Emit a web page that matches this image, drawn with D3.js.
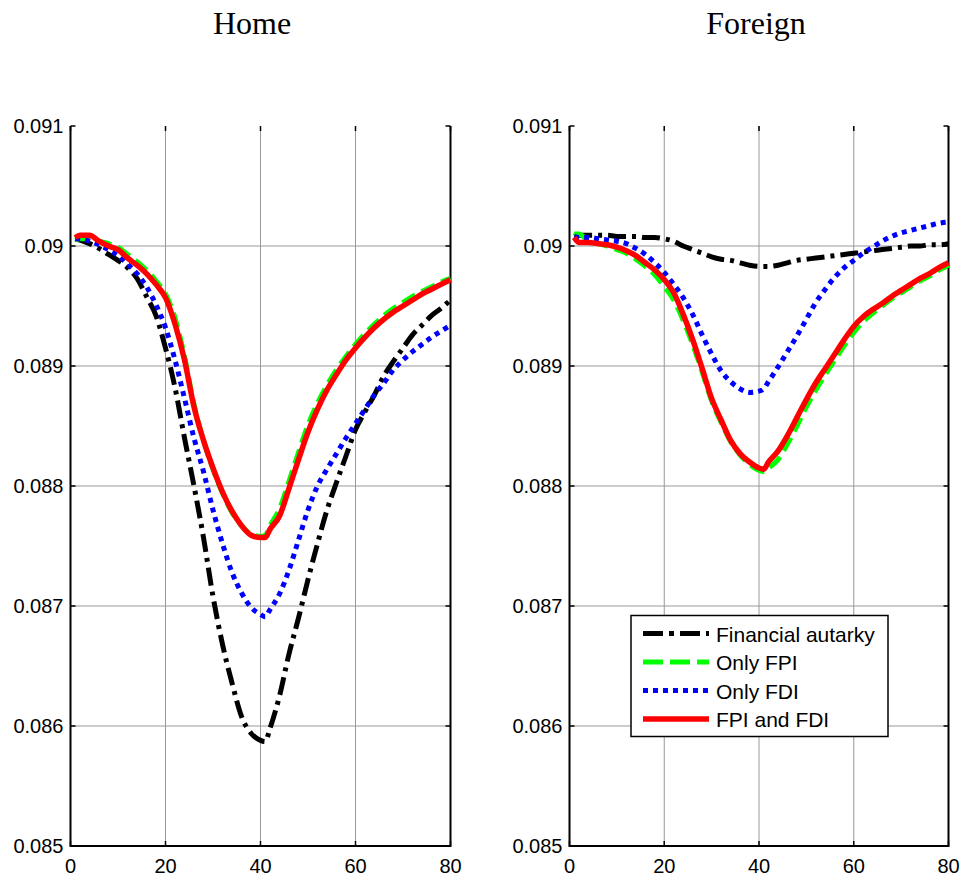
<!DOCTYPE html>
<html>
<head>
<meta charset="utf-8">
<title>Home / Foreign</title>
<style>
    body { margin: 0; background: white; }
    .tick-label { font-family: "Liberation Sans", Arial, sans-serif; font-size: 20px; fill: black; }
    .title { font-family: "Liberation Serif", "Times New Roman", serif; font-size: 32px; fill: black; }
    .legend-text { font-family: "Liberation Sans", Arial, sans-serif; font-size: 21px; fill: black; }
</style>
</head>
<body>
<div id="chart"></div>
<script src="https://cdn.jsdelivr.net/npm/d3@7"></script>
<script>
    // periods
    let periods = [1,2,4,6,8,10,12,14,16,18,20,22,24,26,28,30,32,34,36,38,40,41,42,44,46,48,50,52,54,56,58,60,62,64,66,68,70,72,74,76,78,80]

    // Home
    let home_autarky = [0.09006,0.09005,0.09002,0.08998,0.08993,0.08988,0.08982,0.08973,0.08958,0.08942,0.08915,0.08882,0.08840,0.08800,0.08757,0.08708,0.08668,0.08636,0.08608,0.08594,0.08588,0.08587,0.08598,0.08625,0.08660,0.08690,0.08722,0.08752,0.08780,0.08803,0.08825,0.08847,0.08862,0.08876,0.08892,0.08904,0.08915,0.08926,0.08934,0.08942,0.08948,0.08955]
    let home_fpi = [0.09005,0.09006,0.09006,0.09004,0.09002,0.08999,0.08993,0.08987,0.08980,0.08971,0.08960,0.08940,0.08908,0.08868,0.08838,0.08814,0.08794,0.08778,0.08767,0.08760,0.08758,0.08759,0.08767,0.08781,0.08804,0.08828,0.08851,0.08869,0.08884,0.08897,0.08908,0.08918,0.08927,0.08935,0.08942,0.08948,0.08953,0.08958,0.08962,0.08966,0.08970,0.08973]
    let home_fdi = [0.09006,0.09006,0.09004,0.09001,0.08997,0.08992,0.08985,0.08977,0.08966,0.08951,0.08932,0.08905,0.08873,0.08840,0.08812,0.08780,0.08752,0.08728,0.08711,0.08699,0.08693,0.08691,0.08697,0.08710,0.08730,0.08755,0.08780,0.08800,0.08814,0.08827,0.08840,0.08852,0.08864,0.08876,0.08886,0.08897,0.08905,0.08912,0.08918,0.08924,0.08929,0.08934]
    let home_both = [0.09007,0.09009,0.09009,0.09004,0.09000,0.08997,0.08990,0.08984,0.08977,0.08968,0.08957,0.08935,0.08905,0.08866,0.08838,0.08815,0.08795,0.08779,0.08767,0.08759,0.08757,0.08757,0.08764,0.08775,0.08798,0.08822,0.08845,0.08864,0.08880,0.08893,0.08905,0.08915,0.08924,0.08932,0.08939,0.08945,0.08950,0.08955,0.08960,0.08964,0.08968,0.08972]

    // Foreign
    let foreign_autarky = [0.09008,0.09009,0.09009,0.09009,0.09009,0.09008,0.09008,0.09008,0.09007,0.09007,0.09006,0.09004,0.09000,0.08997,0.08994,0.08991,0.08989,0.08988,0.08986,0.08984,0.08983,0.08983,0.08983,0.08984,0.08986,0.08988,0.08989,0.08990,0.08991,0.08992,0.08993,0.08994,0.08995,0.08996,0.08997,0.08998,0.08999,0.09000,0.09000,0.09001,0.09001,0.09002]
    let foreign_fpi = [0.09010,0.09010,0.09004,0.09002,0.09000,0.08997,0.08994,0.08989,0.08983,0.08976,0.08966,0.08955,0.08938,0.08918,0.08895,0.08871,0.08853,0.08837,0.08826,0.08818,0.08813,0.08812,0.08815,0.08822,0.08835,0.08850,0.08866,0.08880,0.08893,0.08905,0.08917,0.08928,0.08937,0.08944,0.08950,0.08956,0.08961,0.08966,0.08971,0.08975,0.08980,0.08984]
    let foreign_fdi = [0.09008,0.09007,0.09007,0.09006,0.09005,0.09004,0.09002,0.08998,0.08993,0.08986,0.08978,0.08968,0.08957,0.08943,0.08926,0.08910,0.08896,0.08887,0.08881,0.08878,0.08879,0.08881,0.08887,0.08899,0.08912,0.08925,0.08939,0.08953,0.08964,0.08974,0.08982,0.08988,0.08994,0.08999,0.09004,0.09008,0.09011,0.09013,0.09015,0.09017,0.09019,0.09020]
    let foreign_both = [0.09007,0.09003,0.09003,0.09002,0.09001,0.08999,0.08996,0.08992,0.08986,0.08980,0.08972,0.08961,0.08943,0.08922,0.08898,0.08873,0.08855,0.08838,0.08827,0.08820,0.08815,0.08814,0.08820,0.08829,0.08842,0.08857,0.08872,0.08886,0.08898,0.08910,0.08922,0.08933,0.08941,0.08947,0.08952,0.08958,0.08963,0.08968,0.08973,0.08977,0.08982,0.08986]

    let x_ticks = [0, 20, 40, 60, 80]
    let y_ticks = [0.085, 0.086, 0.087, 0.088, 0.089, 0.09, 0.091]
    let y_tick_labels = ["0.085", "0.086", "0.087", "0.088", "0.089", "0.09", "0.091"]
    let titles = ["Home", "Foreign"]
    let series_names = ["Financial autarky", "Only FPI", "Only FDI", "FPI and FDI"]

    let styles = [
        {color: "#000000", width: 5, dash: "18,6,4,6"},
        {color: "#00ff00", width: 5, dash: "15,7"},
        {color: "#0000ff", width: 5, dash: "5,5"},
        {color: "#ff0000", width: 5.5, dash: null}
    ]

    let width = 966, height = 882

    let svg = d3.select("#chart")
        .append("svg")
        .attr("width", width)
        .attr("height", height)

    let plot_top = 126, plot_bottom = 846

    let panels = [
        {left: 70.5, right: 450.5, title_x: 252, series: [home_autarky, home_fpi, home_fdi, home_both]},
        {left: 569.5, right: 948.5, title_x: 756, series: [foreign_autarky, foreign_fpi, foreign_fdi, foreign_both]}
    ]

    let y = d3.scaleLinear().domain([0.085, 0.091]).range([plot_bottom, plot_top])

    panels.forEach(function(p, pi){
        let x = d3.scaleLinear().domain([0, 80]).range([p.left, p.right])
        let g = svg.append("g")

        // grid
        g.selectAll(".vgrid")
            .data(x_ticks.slice(1, -1))
            .enter()
            .append("line")
            .attr("x1", d => x(d)).attr("x2", d => x(d))
            .attr("y1", plot_top).attr("y2", plot_bottom)
            .attr("stroke", "#999").attr("stroke-width", 1)
        g.selectAll(".hgrid")
            .data(y_ticks.slice(1, -1))
            .enter()
            .append("line")
            .attr("x1", p.left).attr("x2", p.right)
            .attr("y1", d => y(d)).attr("y2", d => y(d))
            .attr("stroke", "#999").attr("stroke-width", 1)

        // axis frame (left, bottom, right)
        g.append("path")
            .attr("d", "M" + p.left + "," + plot_top + "V" + plot_bottom + "H" + p.right + "V" + plot_top)
            .attr("fill", "none")
            .attr("stroke", "black")
            .attr("stroke-width", 2)

        // inward ticks
        let tl = 5
        x_ticks.forEach(function(t){
            g.append("line").attr("x1", x(t)).attr("x2", x(t)).attr("y1", plot_bottom).attr("y2", plot_bottom - tl)
                .attr("stroke", "black").attr("stroke-width", 1.5)
            g.append("line").attr("x1", x(t)).attr("x2", x(t)).attr("y1", plot_top).attr("y2", plot_top + tl)
                .attr("stroke", "black").attr("stroke-width", 1.5)
        })
        y_ticks.forEach(function(t){
            g.append("line").attr("x1", p.left).attr("x2", p.left + tl).attr("y1", y(t)).attr("y2", y(t))
                .attr("stroke", "black").attr("stroke-width", 1.5)
            g.append("line").attr("x1", p.right).attr("x2", p.right - tl).attr("y1", y(t)).attr("y2", y(t))
                .attr("stroke", "black").attr("stroke-width", 1.5)
        })

        // tick labels
        g.selectAll(".xl")
            .data(x_ticks)
            .enter()
            .append("text")
            .attr("class", "tick-label")
            .attr("x", d => x(d))
            .attr("y", 873)
            .attr("text-anchor", "middle")
            .text(d => d)
        g.selectAll(".yl")
            .data(y_ticks)
            .enter()
            .append("text")
            .attr("class", "tick-label")
            .attr("x", p.left - 7)
            .attr("y", d => y(d) + 7)
            .attr("text-anchor", "end")
            .text((d, i) => y_tick_labels[i])

        // title
        g.append("text")
            .attr("class", "title")
            .attr("x", p.title_x)
            .attr("y", 34)
            .attr("text-anchor", "middle")
            .text(titles[pi])

        // lines
        let line = d3.line()
            .x((d, i) => x(periods[i]))
            .y(d => y(d))
            .curve(d3.curveMonotoneX)

        p.series.forEach(function(s, si){
            g.append("path")
                .datum(s)
                .attr("d", line)
                .attr("fill", "none")
                .attr("stroke", styles[si].color)
                .attr("stroke-width", styles[si].width)
                .attr("stroke-dasharray", styles[si].dash)
                .attr("stroke-linejoin", "round")
        })
    })

    // legend in Foreign panel
    let legend = svg.append("g")
        .attr("transform", "translate(631,615.5)")

    legend.append("rect")
        .attr("width", 257)
        .attr("height", 121)
        .attr("fill", "white")
        .attr("stroke", "black")
        .attr("stroke-width", 1.5)

    let entries = legend.selectAll(".entry")
        .data(series_names)
        .enter()
        .append("g")
        .attr("transform", (d, i) => "translate(0," + (18 + i * 28.5) + ")")

    entries.append("line")
        .attr("x1", 12).attr("x2", 78)
        .attr("y1", 0).attr("y2", 0)
        .attr("stroke", (d, i) => styles[i].color)
        .attr("stroke-width", (d, i) => styles[i].width)
        .attr("stroke-dasharray", (d, i) => i === 0 ? "20,6,5,6" : i === 1 ? "20,7" : styles[i].dash)

    entries.append("text")
        .attr("class", "legend-text")
        .attr("x", 85)
        .attr("y", 8)
        .text(d => d)
</script>
</body>
</html>
